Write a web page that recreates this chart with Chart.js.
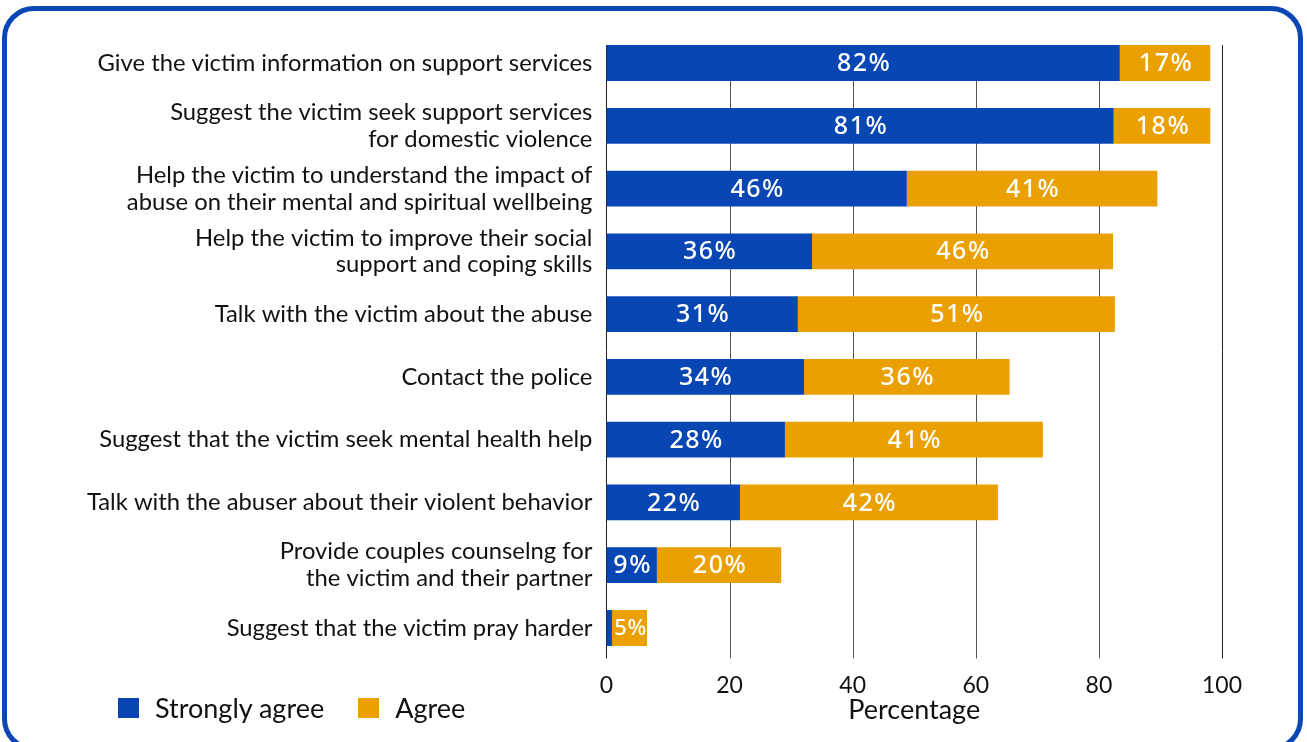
<!DOCTYPE html>
<html>
<head>
<meta charset="utf-8">
<script src="https://cdn.jsdelivr.net/npm/chart.js@4.4.1/dist/chart.umd.min.js"></script>
<style>
    html, body { margin: 0; padding: 0; background: #fff; }
    #wrap { position: relative; width: 1307px; height: 742px; overflow: hidden; background: #fff; }
    #frame {
        position: absolute; left: 2px; top: 6px; width: 1291px; height: 735px;
        border: 5px solid #0a47b5; border-radius: 32px;
    }
    #chart { position: absolute; left: 0; top: 0; }
    #legend {
        position: absolute; left: 118px; top: 692px; display: flex; align-items: center;
        font-family: Lato, sans-serif; font-size: 27px; color: #111; line-height: 32px;
    }
    #legend .item { display: flex; align-items: center; margin-right: 34px; }
    #legend .box { width: 21px; height: 20px; margin-right: 16px; }
</style>
</head>
<body>
<div id="wrap">
    <div id="frame"></div>
    <canvas id="chart" width="1307" height="742"></canvas>
    <div id="legend"></div>
</div>
<script>
const blue   = '#0846b4';
const orange = '#eaa000';

const categories = [
    'Give the victim information on support services',
    ['Suggest the victim seek support services', 'for domestic violence'],
    ['Help the victim to understand the impact of', 'abuse on their mental and spiritual wellbeing'],
    ['Help the victim to improve their social', 'support and coping skills'],
    'Talk with the victim about the abuse',
    'Contact the police',
    'Suggest that the victim seek mental health help',
    'Talk with the abuser about their violent behavior',
    ['Provide couples counselng for', 'the victim and their partner'],
    'Suggest that the victim pray harder'
];

// bar lengths as drawn
const stronglyAgree = [83.4, 82.4, 48.8, 33.4, 31.1, 32.1, 29.0, 21.7, 8.2, 0.9];
const agree         = [14.7, 15.7, 40.7, 48.9, 51.5, 33.4, 41.9, 41.9, 20.2, 5.7];

// printed labels
const stronglyLabels = ['82%', '81%', '46%', '36%', '31%', '34%', '28%', '22%', '9%', ''];
const agreeLabels    = ['17%', '18%', '41%', '46%', '51%', '36%', '41%', '42%', '20%', '5%'];

const xTicks = [0, 20, 40, 60, 80, 100];

// 棒の中に白い数値ラベル
const barLabels = {
    id: 'barLabels',
    afterDatasetsDraw(chart) {
        const ctx = chart.ctx;
        const sets = [stronglyLabels, agreeLabels];
        ctx.save();
        ctx.fillStyle = '#fff';
        ctx.textAlign = 'center';
        ctx.textBaseline = 'middle';
        chart.data.datasets.forEach((ds, i) => {
            chart.getDatasetMeta(i).data.forEach((bar, j) => {
                const txt = sets[i][j];
                if (!txt) return;
                const w = Math.abs(bar.x - bar.base);
                let size = 25;
                ctx.font = `500 ${size}px "Noto Sans", sans-serif`;
                ctx.letterSpacing = '1.5px';
                while (ctx.measureText(txt).width > w - 2 && size > 10) {
                    size--;
                    ctx.font = `500 ${size}px "Noto Sans", sans-serif`;
                    ctx.letterSpacing = '0.5px';
                }
                ctx.fillText(txt, (bar.x + bar.base) / 2 + 1, bar.y + 1);
            });
        });
        ctx.restore();
    }
};

// 縦の目盛線（最初の棒の上端から）
const gridLines = {
    id: 'gridLines',
    beforeDatasetsDraw(chart) {
        const ctx = chart.ctx;
        const x = chart.scales.x;
        const first = chart.getDatasetMeta(0).data[0];
        const top = first.y - first.height / 2;
        const bottom = chart.chartArea.bottom - 1;
        ctx.save();
        ctx.lineWidth = 1;
        xTicks.forEach(v => {
            const px = Math.round(x.getPixelForValue(v)) + 0.5;
            ctx.strokeStyle = (v === 0 || v === 100) ? '#222' : '#555';
            ctx.beginPath();
            ctx.moveTo(px, top);
            ctx.lineTo(px, bottom);
            ctx.stroke();
        });
        ctx.restore();
    }
};

const htmlLegend = {
    id: 'htmlLegend',
    afterUpdate(chart) {
        const box = document.getElementById('legend');
        box.innerHTML = '';
        chart.data.datasets.forEach(ds => {
            const item = document.createElement('div');
            item.className = 'item';
            const sw = document.createElement('span');
            sw.className = 'box';
            sw.style.background = ds.backgroundColor;
            const label = document.createElement('span');
            label.textContent = ds.label;
            item.appendChild(sw);
            item.appendChild(label);
            box.appendChild(item);
        });
    }
};

new Chart(document.getElementById('chart').getContext('2d'), {
    type: 'bar',
    data: {
        labels: categories,
        datasets: [
            { label: 'Strongly agree', data: stronglyAgree, backgroundColor: blue },
            { label: 'Agree', data: agree, backgroundColor: orange }
        ]
    },
    options: {
        indexAxis: 'y',
        responsive: false,
        animation: false,
        barPercentage: 0.57,
        categoryPercentage: 1,
        layout: { padding: { top: 31.6, right: 85, bottom: 0, left: 0 } },
        plugins: {
            legend: { display: false },
            tooltip: { enabled: false }
        },
        scales: {
            x: {
                stacked: true,
                min: 0,
                max: 100,
                afterBuildTicks: s => { s.ticks = xTicks.map(v => ({ value: v })); },
                afterFit: s => { s.height = 82.6; },
                grid: { display: false, drawTicks: false },
                border: { display: false },
                ticks: {
                    padding: 12,
                    color: '#111',
                    font: { family: 'Lato', size: 23 }
                },
                title: {
                    display: true,
                    text: 'Percentage',
                    color: '#111',
                    font: { family: 'Lato', size: 27 },
                    padding: { top: 0, bottom: 16 }
                }
            },
            y: {
                stacked: true,
                afterFit: s => { s.width = 606.4; },
                grid: { display: false, drawTicks: false },
                border: { display: false },
                ticks: {
                    padding: 14,
                    color: '#111',
                    font: { family: 'Lato', size: 23.8, lineHeight: 1.13 }
                }
            }
        }
    },
    plugins: [gridLines, barLabels, htmlLegend]
});
</script>
</body>
</html>
